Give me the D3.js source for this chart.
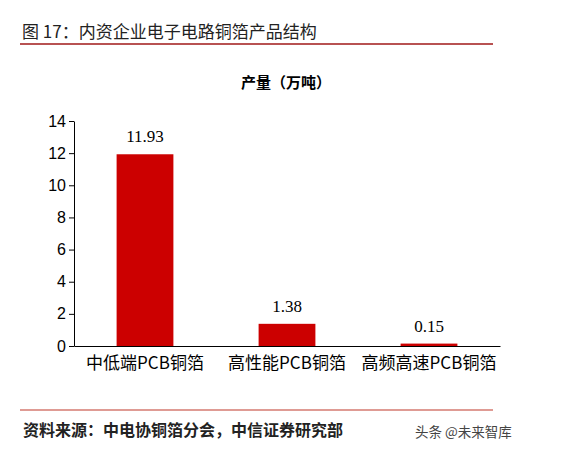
<!DOCTYPE html><html><head><meta charset="utf-8">
<script src="https://cdn.jsdelivr.net/npm/d3@7"></script>
<style>body{margin:0;background:#fff}</style></head><body>
<svg id="c" width="561" height="452"></svg>
<script>
const categories=["中低端PCB铜箔","高性能PCB铜箔","高频高速PCB铜箔"];
const values=[11.93,1.38,0.15];
const yTicks=[0,2,4,6,8,10,12,14];
const svg=d3.select("#c");
const f="'Noto Sans CJK SC',sans-serif";
svg.append("text").attr("x",22).attr("y",38).attr("font-family",f).attr("font-size",17).attr("fill","#222").text("图 17：内资企业电子电路铜箔产品结构");
svg.append("line").attr("x1",20).attr("x2",493).attr("y1",44).attr("y2",44).attr("stroke","#a01818").attr("stroke-width",1.3);
svg.append("line").attr("x1",20).attr("x2",493).attr("y1",410).attr("y2",410).attr("stroke","#c0392b").attr("stroke-width",1.2);
svg.append("text").attr("x",23).attr("y",436).attr("font-family",f).attr("font-size",16).attr("font-weight","bold").attr("fill","#222").text("资料来源：中电协铜箔分会，中信证券研究部");
svg.append("text").attr("x",415).attr("y",437).attr("font-family",f).attr("font-size",13.5).attr("fill","#444").text("头条 @未来智库");
svg.append("text").attr("x",286).attr("y",88).attr("text-anchor","middle").attr("font-family",f).attr("font-size",15).attr("font-weight","bold").text("产量（万吨）");
const x=d3.scaleBand().domain(categories).range([74,500]).paddingInner(0.6).paddingOuter(0.3);
const y=d3.scaleLinear().domain([0,14]).range([346,121]);
const ga=svg.append("g").attr("transform","translate(74,0)").call(d3.axisLeft(y).tickValues(yTicks).tickSize(5).tickSizeOuter(0));
ga.selectAll("text").attr("font-family","Arial, 'Liberation Sans'").attr("font-size",16).attr("fill","#000");
ga.selectAll("path,line").attr("stroke","#000");
svg.selectAll("rect.b").data(values).enter().append("rect").attr("x",(d,i)=>x(categories[i])).attr("width",x.bandwidth()).attr("y",d=>y(d)).attr("height",d=>y(0)-y(d)).attr("fill","#cc0000");
svg.selectAll("text.v").data(values).enter().append("text").attr("x",(d,i)=>x(categories[i])+x.bandwidth()/2).attr("y",d=>y(d)-12).attr("text-anchor","middle").attr("font-family","'Liberation Serif',serif").attr("font-size",17).text(d=>d.toFixed(2));
const gx=svg.append("g").attr("transform","translate(0,346)").call(d3.axisBottom(x).tickSize(0));
gx.select("path").attr("stroke","#000");
gx.selectAll("text").attr("font-family",f).attr("font-size",17).attr("fill","#000").attr("dy","1.2em");
</script></body></html>
